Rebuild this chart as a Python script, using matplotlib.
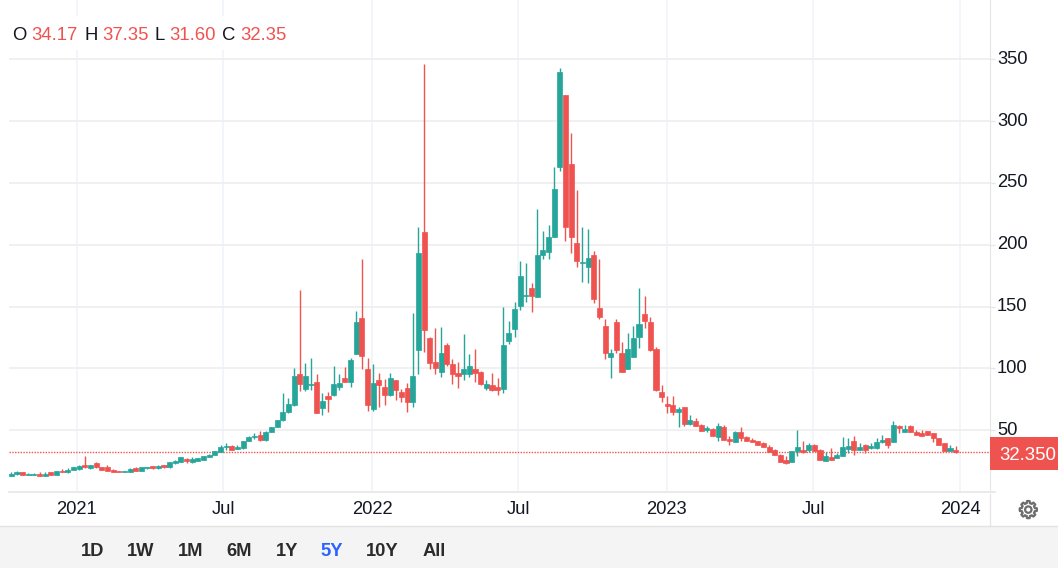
import numpy as np
import matplotlib
matplotlib.use('Agg')
import matplotlib.pyplot as plt
from matplotlib.patches import Rectangle, Polygon, Circle

plt.rcParams['font.family'] = ['Liberation Sans', 'DejaVu Sans']

# weekly candles, oldest first
opens = [13.1,14.4,16.3,14.0,14.0,15.0,13.1,16.3,13.9,17.4,16.0,17.9,18.7,22.0,19.3,23.3,20.1,20.1,18.2,17.1,
         16.3,16.3,19.5,17.1,19.3,21.2,19.3,22.0,20.1,23.3,24.4,27.1,24.1,25.2,26.3,28.4,30.3,32.5,36.5,37.3,
         35.2,35.4,41.4,44.9,46.2,42.2,48.7,52.7,58.2,64.4,70.4,95.4,83.3,86.5,89.2,68.2,77.9,78.2,85.4,92.5,
         89.2,111.6,140.7,99.5,67.1,90.3,85.2,78.2,90.3,81.1,84.4,73.0,114.6,210.5,124.5,105.4,97.3,118.6,103.5,96.5,
         95.4,95.4,99.5,97.3,84.4,86.3,85.2,83.3,122.6,131.8,150.9,158.2,165.0,158.0,191.4,194.3,206.5,263.1,320.8,265.0,
         201.3,184.9,182.2,191.4,148.8,134.5,109.4,137.7,112.4,99.5,109.4,125.6,143.9,137.7,115.6,80.7,71.6,70.5,64.8,68.6,
         55.4,57.3,54.3,50.3,51.3,44.6,52.7,43.3,40.6,48.4,44.6,42.5,41.4,39.5,36.5,34.4,30.3,26.3,24.4,33.3,
         34.4,34.4,38.4,34.4,25.2,28.4,27.4,29.2,34.9,41.4,34.4,38.4,35.4,35.4,40.3,43.5,40.6,53.5,48.7,53.5,
         48.7,47.6,49.5,47.6,43.5,39.5,33.3,34.17]
highs = [16.0,17.1,16.5,15.3,15.1,16.3,16.0,16.6,17.3,18.5,19.3,20.4,22.2,29.2,22.3,24.4,20.4,22.2,18.5,17.3,
         17.3,19.2,20.0,20.3,20.3,21.4,22.0,22.2,24.4,25.8,28.5,27.9,28.4,27.7,29.5,30.6,33.6,38.4,39.8,38.1,
         38.1,41.7,45.4,47.8,49.5,49.5,53.0,58.7,80.3,76.0,100.3,163.3,104.3,108.4,95.4,80.1,81.1,102.4,95.4,101.3,
         108.4,146.6,188.4,108.4,103.5,96.2,91.4,96.2,90.8,83.3,88.4,144.7,214.6,346.1,125.6,132.6,133.7,120.8,107.5,105.4,
         127.8,111.6,115.6,98.0,90.3,96.2,92.5,149.6,138.5,153.6,187.1,185.2,169.0,228.6,211.3,216.4,263.1,342.9,321.0,290.3,
         244.7,214.6,212.7,195.1,188.4,139.9,115.6,139.9,121.6,128.6,134.5,165.0,159.0,141.8,117.5,86.9,77.5,77.8,68.9,69.1,
         62.4,59.7,55.5,53.5,51.6,55.7,54.6,45.7,49.5,52.4,45.4,43.5,41.7,40.6,38.1,34.7,30.6,29.2,33.6,50.5,
         41.4,39.5,39.0,34.7,32.5,35.4,31.4,44.6,43.5,45.4,39.5,38.7,39.5,43.5,46.5,43.8,57.3,54.6,54.6,54.0,
         50.5,50.5,49.8,47.9,43.8,39.8,38.4,37.35]
lows = [13.0,14.2,14.0,13.9,13.8,12.9,12.9,14.0,13.7,16.1,15.8,17.7,18.2,19.9,19.1,19.9,18.0,16.9,16.1,16.1,
        16.1,16.1,16.9,16.9,19.1,19.1,19.1,19.9,19.9,23.1,24.2,23.3,23.9,25.0,26.1,28.2,30.1,32.3,34.1,34.2,
        35.0,35.2,41.2,43.3,41.6,41.6,48.5,52.5,57.7,64.0,70.0,81.4,81.4,82.2,64.0,62.0,65.0,78.0,82.2,89.0,
        85.4,111.4,99.5,66.0,66.0,69.0,70.1,78.0,74.1,73.0,65.0,69.0,95.4,113.7,99.5,95.4,93.3,102.4,87.3,84.4,
        90.3,93.3,89.2,87.0,82.2,82.0,78.2,80.3,119.7,125.6,146.9,153.9,145.8,157.8,188.4,188.4,206.3,259.3,203.2,193.5,
        182.2,170.1,169.3,153.1,139.9,107.5,92.5,112.7,97.0,99.2,109.2,116.7,132.6,114.4,82.0,73.2,63.7,62.4,52.7,53.5,
        54.3,53.3,49.5,48.7,45.5,41.4,42.3,38.4,40.4,41.4,41.2,40.4,38.2,36.3,32.3,30.1,24.2,23.1,24.2,29.2,
        31.4,32.5,33.1,26.1,25.0,26.1,27.2,29.0,31.4,30.3,34.2,31.4,35.2,35.2,40.1,36.0,40.4,47.6,48.5,48.5,
        46.3,45.2,46.3,40.6,38.2,33.1,33.1,31.60]
closes = [15.0,16.6,14.2,15.0,14.8,13.1,15.0,14.2,17.1,16.3,18.2,20.1,21.2,20.1,22.0,20.1,18.2,17.1,16.3,16.3,
          17.1,19.0,17.1,20.1,20.1,19.3,21.2,20.1,24.1,25.5,28.2,25.2,26.5,27.4,29.2,30.3,33.3,36.3,37.1,34.4,
          36.3,41.4,44.3,45.4,42.5,48.4,52.7,58.4,65.0,71.2,94.3,87.3,94.3,87.3,64.2,73.9,75.2,87.3,88.4,89.2,
          106.5,137.7,109.7,70.1,88.4,86.3,78.2,92.5,82.2,77.1,73.0,94.3,193.5,131.0,104.6,100.5,112.4,103.5,95.4,94.3,
          99.5,102.4,96.5,87.3,87.3,82.2,82.2,118.6,128.6,148.0,174.9,159.8,158.8,191.4,196.2,206.5,245.0,339.9,214.6,206.5,
          187.3,186.3,189.2,156.1,141.8,112.7,112.4,114.6,97.3,115.6,124.5,135.6,138.5,114.6,82.2,77.2,69.9,64.8,67.5,55.4,
          58.4,53.5,49.7,52.2,45.7,53.5,42.5,41.4,48.4,43.5,41.4,40.6,38.4,36.5,32.5,30.3,24.4,23.3,33.3,36.5,
          32.5,38.4,33.3,26.3,29.2,26.3,30.3,36.5,37.6,34.4,36.5,34.4,37.6,40.6,42.5,38.4,54.6,51.6,51.3,48.7,
          46.5,45.4,46.5,43.5,38.4,33.3,35.4,32.35]

price_ticks = [50, 100, 150, 200, 250, 300, 350]
time_ticks = [11.6, 37.5, 63.8, 89.6, 115.9, 141.8, 167.8]
time_labels = ['2021', 'Jul', '2022', 'Jul', '2023', 'Jul', '2024']
last_price = 32.35
ohlc_header = [('O', 12), ('34.17', 31), ('H', 84), ('37.35', 102), ('L', 154), ('31.60', 169), ('C', 222), ('32.35', 240)]
buttons = [('1D', 93), ('1W', 141), ('1M', 191), ('6M', 239), ('1Y', 287), ('5Y', 332), ('10Y', 382), ('All', 434)]

UP = '#26a69a'
DOWN = '#ef5350'
INK = '#131722'

W, H = 1058, 568
fig = plt.figure(figsize=(W / 100, H / 100), dpi=100, facecolor='white')

ax = fig.add_axes([9 / W, (H - 491) / H, 981 / W, 491 / H])
ax.set_xlim(-0.407, 173.07)
ax.set_ylim(0.92, 397.95)
for s in ['top', 'left', 'bottom']:
    ax.spines[s].set_visible(False)
ax.spines['right'].set_color('#e6e6e6')

idx = np.arange(len(opens))
o = np.array(opens)
c = np.array(closes)
colors = [UP if b >= a else DOWN for a, b in zip(opens, closes)]

ax.set_axisbelow(True)
ax.set_yticks(price_ticks)
ax.set_xticks(time_ticks)
ax.set_xticklabels([])
ax.yaxis.tick_right()
ax.tick_params(axis='y', length=3.6, width=1, color='#e6e6e6', labelsize=13.2, labelcolor=INK, pad=1.5)
ax.tick_params(axis='x', length=0)
for lab in ax.get_yticklabels():
    lab.set_va('center')
ax.grid(axis='y', color='#eeeeee', lw=1.2)
ax.grid(axis='x', color='#f0f3fa', lw=1.2)

ax.axhline(last_price, color=DOWN, lw=1, ls=(0, (1, 1)), zorder=2)
ax.vlines(idx, lows, highs, colors=colors, lw=1, zorder=3)
ax.bar(idx, np.abs(c - o), bottom=np.minimum(o, c), width=0.9, color=colors, edgecolor=colors, lw=0.5, zorder=4)

# page furniture in pixel coordinates
ov = fig.add_axes([0, 0, 1, 1], zorder=5)
ov.set_xlim(0, W)
ov.set_ylim(H, 0)
ov.axis('off')

ov.add_patch(Rectangle((10, 16), 280, 34, fc='white', ec='none'))
for label, x in ohlc_header:
    ov.text(x, 36, label, fontsize=13.3, va='center', ha='left',
            color=INK if label.isalpha() else DOWN)

ov.plot([9, 995], [491.5, 491.5], color='#e6e6e6', lw=1.2)
ov.plot([989.5, 989.5], [494, 525], color='#e6e6e6', lw=1)
ov.add_patch(Rectangle((0, 526), W, H - 526, fc='#f4f4f4', ec='none'))
ov.plot([0, W], [525.5, 525.5], color='#e2e2e2', lw=1)

for tick, label in zip(time_ticks, time_labels):
    px = 9 + (tick + 0.407) / (173.07 + 0.407) * 981
    ov.text(px, 510, label, fontsize=13.2, ha='center', va='center', color=INK)

ov.add_patch(Rectangle((990, 437), 68, 33, fc=DOWN, ec='none'))
ov.text(1027.5, 455, '32.350', color='white', fontsize=13.4, ha='center', va='center')

for label, x in buttons:
    ov.text(x, 552, label, fontsize=13.2, fontweight='bold', ha='center', va='center',
            color='#2962ff' if label == '5Y' else '#2b2b2b')

# settings gear
theta = np.linspace(0, 2 * np.pi, 240, endpoint=False)
radius = 7.6 + np.clip(3 * np.cos(8 * theta), -1, 1)
ov.add_patch(Polygon(np.c_[1028.3 + radius * np.cos(theta), 509.6 + radius * np.sin(theta)],
                     fc='none', ec='#6e6e6e', lw=1.6))
ov.add_patch(Circle((1028.3, 509.6), 3.2, fc='none', ec='#6e6e6e', lw=1.6))

fig.savefig('out.png', dpi=100)
